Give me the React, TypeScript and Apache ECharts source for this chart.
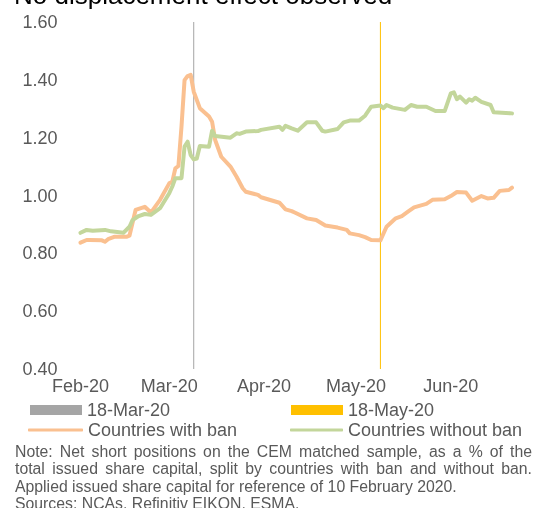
import React, { useEffect, useRef } from "react";
import * as echarts from "echarts";

const TITLE = "No displacement effect observed";
const START_DATE = "2020-02-10";
const END_DATE = "2020-06-30";
const Y_MIN = 0.4;
const Y_MAX = 1.6;
const Y_STEP = 0.2;

const MONTH_TICK_DATES = ["2020-02-10", "2020-03-10", "2020-04-10", "2020-05-10", "2020-06-10"];
const MONTH_TICK_LABELS = ["Feb-20", "Mar-20", "Apr-20", "May-20", "Jun-20"];

const EVENT_NAMES = ["18-Mar-20", "18-May-20"];
const EVENT_DATES = ["2020-03-18", "2020-05-18"];

const BAN_NAME = "Countries with ban";
const NOBAN_NAME = "Countries without ban";

const banDates = [
  "2020-02-10", "2020-02-12", "2020-02-13", "2020-02-17", "2020-02-18", "2020-02-19", "2020-02-21",
  "2020-02-25", "2020-02-26", "2020-02-28", "2020-03-02", "2020-03-04", "2020-03-07", "2020-03-10",
  "2020-03-11", "2020-03-12", "2020-03-13", "2020-03-14", "2020-03-15", "2020-03-16", "2020-03-17",
  "2020-03-18", "2020-03-20", "2020-03-23", "2020-03-24", "2020-03-25", "2020-03-27", "2020-03-30",
  "2020-04-01", "2020-04-03", "2020-04-04", "2020-04-08", "2020-04-09", "2020-04-15", "2020-04-17",
  "2020-04-19", "2020-04-20", "2020-04-24", "2020-04-27", "2020-04-30", "2020-05-04", "2020-05-07",
  "2020-05-08", "2020-05-11", "2020-05-13", "2020-05-15", "2020-05-18", "2020-05-20", "2020-05-23",
  "2020-05-25", "2020-05-27", "2020-05-29", "2020-06-02", "2020-06-04", "2020-06-08", "2020-06-10",
  "2020-06-12", "2020-06-15", "2020-06-17", "2020-06-20", "2020-06-22", "2020-06-24", "2020-06-26",
  "2020-06-29", "2020-06-30",
];
const banValues = [
  0.837, 0.846, 0.846, 0.845, 0.840, 0.849, 0.857,
  0.857, 0.861, 0.950, 0.961, 0.941, 0.985, 1.042,
  1.048, 1.094, 1.102, 1.238, 1.399, 1.413, 1.417,
  1.359, 1.302, 1.273, 1.255, 1.192, 1.134, 1.100,
  1.065, 1.025, 1.013, 1.002, 0.994, 0.975, 0.952,
  0.946, 0.941, 0.921, 0.915, 0.896, 0.889, 0.881,
  0.869, 0.863, 0.856, 0.846, 0.845, 0.892, 0.921,
  0.929, 0.944, 0.959, 0.971, 0.985, 0.987, 0.998,
  1.012, 1.010, 0.982, 0.998, 0.990, 0.992, 1.016,
  1.019, 1.027,
];

const noBanDates = [
  "2020-02-10", "2020-02-12", "2020-02-14", "2020-02-18", "2020-02-20", "2020-02-24", "2020-02-26",
  "2020-02-27", "2020-02-29", "2020-03-02", "2020-03-04", "2020-03-07", "2020-03-10", "2020-03-11",
  "2020-03-12", "2020-03-14", "2020-03-15", "2020-03-16", "2020-03-17", "2020-03-18", "2020-03-19",
  "2020-03-20", "2020-03-23", "2020-03-24", "2020-03-25", "2020-03-30", "2020-04-01", "2020-04-02",
  "2020-04-04", "2020-04-08", "2020-04-09", "2020-04-15", "2020-04-16", "2020-04-17", "2020-04-19",
  "2020-04-21", "2020-04-24", "2020-04-27", "2020-04-29", "2020-04-30", "2020-05-04", "2020-05-06",
  "2020-05-08", "2020-05-11", "2020-05-13", "2020-05-15", "2020-05-18", "2020-05-19", "2020-05-20",
  "2020-05-22", "2020-05-26", "2020-05-28", "2020-05-30", "2020-06-02", "2020-06-05", "2020-06-08",
  "2020-06-10", "2020-06-11", "2020-06-12", "2020-06-13", "2020-06-15", "2020-06-16", "2020-06-17",
  "2020-06-18", "2020-06-20", "2020-06-23", "2020-06-24", "2020-06-30",
];
const noBanValues = [
  0.871, 0.881, 0.878, 0.881, 0.876, 0.871, 0.892,
  0.915, 0.929, 0.936, 0.933, 0.956, 1.008, 1.031,
  1.060, 1.060, 1.169, 1.186, 1.140, 1.125, 1.128,
  1.171, 1.169, 1.224, 1.206, 1.200, 1.215, 1.213,
  1.221, 1.223, 1.227, 1.238, 1.227, 1.241, 1.232,
  1.224, 1.253, 1.253, 1.224, 1.221, 1.230, 1.253,
  1.259, 1.259, 1.276, 1.307, 1.311, 1.302, 1.313,
  1.304, 1.296, 1.313, 1.307, 1.307, 1.292, 1.292,
  1.353, 1.357, 1.333, 1.342, 1.321, 1.333, 1.328,
  1.338, 1.324, 1.313, 1.288, 1.284,
];

const NOTE_LINES = [
  "Note: Net short positions on the CEM matched sample, as a % of the",
  "total issued share capital, split by countries with ban and without ban.",
  "Applied issued share capital for reference of 10 February 2020.",
  "Sources: NCAs, Refinitiv EIKON, ESMA.",
];
const NOTE_JUSTIFIED = [true, true, false, false];

const FONT = "Arial, 'Liberation Sans', sans-serif";
const GREY_TEXT = "#595959";
const COLOR_MAR = "#A5A5A5";
const COLOR_MAY = "#FFC000";
const COLOR_BAN = "#FAC090";
const COLOR_NOBAN = "#C3D69B";

const NOTE_SIZE = 15.8;
const NOTE_LEFT = 15;
const NOTE_RIGHT = 532;

const DAY = 86400000;
const toDay = (s: string) => {
  const [y, m, d] = s.split("-").map(Number);
  const [y0, m0, d0] = START_DATE.split("-").map(Number);
  return Math.round((Date.UTC(y, m - 1, d) - Date.UTC(y0, m0 - 1, d0)) / DAY);
};

function noteElements() {
  const ctx = document.createElement("canvas").getContext("2d");
  const font = `${NOTE_SIZE}px ${FONT}`;
  if (ctx) ctx.font = font;
  const measure = (t: string) => (ctx ? ctx.measureText(t).width : t.length * NOTE_SIZE * 0.5);
  const els: any[] = [];
  NOTE_LINES.forEach((line, i) => {
    const y = 451 + i * 17.5;
    const style = { fontFamily: FONT, fontSize: NOTE_SIZE, fill: GREY_TEXT, verticalAlign: "middle" };
    if (!NOTE_JUSTIFIED[i]) {
      els.push({ type: "text", x: NOTE_LEFT, y, style: { ...style, text: line } });
      return;
    }
    const words = line.split(" ");
    const widths = words.map(measure);
    const total = widths.reduce((a, b) => a + b, 0);
    const gap = (NOTE_RIGHT - NOTE_LEFT - total) / (words.length - 1);
    let x = NOTE_LEFT;
    words.forEach((w, k) => {
      els.push({ type: "text", x, y, style: { ...style, text: w } });
      x += widths[k] + gap;
    });
  });
  return els;
}

export default function App() {
  const ref = useRef<HTMLDivElement>(null);
  useEffect(() => {
    if (!ref.current) return;
    const chart = echarts.init(ref.current, null, { renderer: "svg" });
    const tickDays = MONTH_TICK_DATES.map(toDay);
    const banData = banDates.map((d, i) => [toDay(d), banValues[i]]);
    const noBanData = noBanDates.map((d, i) => [toDay(d), noBanValues[i]]);
    const eventSeries = EVENT_NAMES.map((name, i) => ({
      name,
      type: "line",
      color: i === 0 ? COLOR_MAR : COLOR_MAY,
      data: [
        [toDay(EVENT_DATES[i]), Y_MIN],
        [toDay(EVENT_DATES[i]), Y_MAX],
      ],
      symbol: "none",
      lineStyle: { width: 1, color: i === 0 ? COLOR_MAR : COLOR_MAY },
      z: 1,
    }));
    const legendBase = {
      selectedMode: false,
      padding: 0,
      textStyle: { fontFamily: FONT, fontSize: 18, color: GREY_TEXT },
    };
    const option: any = {
      animation: false,
      grid: { left: 80.5, right: 24, top: 22, bottom: 139 },
      xAxis: {
        type: "value",
        min: 0,
        max: toDay(END_DATE),
        splitLine: { show: false },
        axisLine: { show: false },
        axisTick: { show: false },
        axisLabel: {
          customValues: tickDays,
          margin: 8,
          fontFamily: FONT,
          fontSize: 18,
          color: GREY_TEXT,
          formatter: (v: number) => {
            const idx = tickDays.indexOf(Math.round(v));
            return idx >= 0 ? MONTH_TICK_LABELS[idx] : "";
          },
        },
      },
      yAxis: {
        type: "value",
        min: Y_MIN,
        max: Y_MAX,
        interval: Y_STEP,
        splitLine: { show: false },
        axisLine: { show: false },
        axisTick: { show: false },
        axisLabel: {
          margin: 23,
          fontFamily: FONT,
          fontSize: 18,
          color: GREY_TEXT,
          formatter: (v: number) => v.toFixed(2),
        },
      },
      legend: [
        { ...legendBase, data: [{ name: EVENT_NAMES[0], icon: "rect" }], left: 30, top: 401, itemWidth: 52, itemHeight: 10 },
        { ...legendBase, data: [{ name: EVENT_NAMES[1], icon: "rect" }], left: 291, top: 401, itemWidth: 52, itemHeight: 10 },
        { ...legendBase, data: [{ name: BAN_NAME, icon: "roundRect" }], left: 28, top: 421, itemWidth: 55, itemHeight: 3 },
        { ...legendBase, data: [{ name: NOBAN_NAME, icon: "roundRect" }], left: 290, top: 421, itemWidth: 53, itemHeight: 3 },
      ],
      graphic: [
        {
          type: "text",
          x: 14,
          y: -5,
          style: { text: TITLE, fontFamily: FONT, fontSize: 26, fill: "#000000", verticalAlign: "middle" },
        },
        ...noteElements(),
      ],
      series: [
        ...eventSeries,
        {
          name: BAN_NAME,
          type: "line",
          color: COLOR_BAN,
          data: banData,
          symbol: "none",
          lineStyle: { width: 4, color: COLOR_BAN, cap: "round", join: "round" },
          z: 2,
        },
        {
          name: NOBAN_NAME,
          type: "line",
          color: COLOR_NOBAN,
          data: noBanData,
          symbol: "none",
          lineStyle: { width: 4, color: COLOR_NOBAN, cap: "round", join: "round" },
          z: 3,
        },
      ],
    };
    chart.setOption(option);
    return () => chart.dispose();
  }, []);
  return <div ref={ref} style={{ position: "fixed", left: 0, top: 0, width: 536, height: 508 }} />;
}
